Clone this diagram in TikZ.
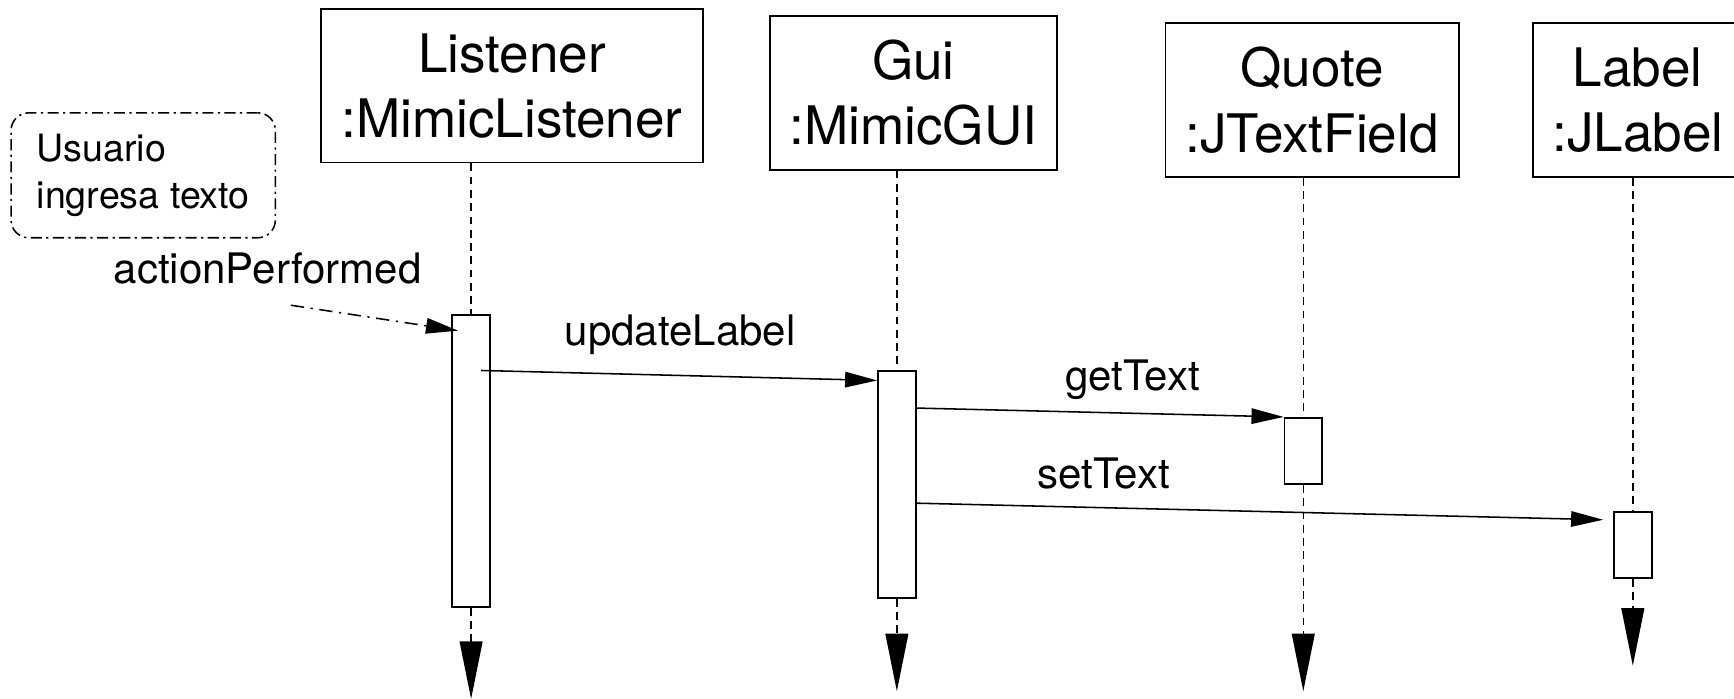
\documentclass[tikz,border=0pt]{standalone}
\usepackage{fontspec}
\setmainfont{TeX Gyre Heros}
\usetikzlibrary{arrows.meta, positioning}

\begin{document}
\begin{tikzpicture}[x=0.5pt, y=-0.5pt,
	object/.style={draw, line width=0.8pt, align=center, inner sep=0pt, minimum height=69.5pt, font=\fontsize{24}{29.5}\selectfont},
	activation/.style={draw, fill=white, line width=0.8pt, inner sep=0pt, minimum width=17pt, anchor=north},
	lifeline/.style={line width=0.7pt, dash pattern=on 3.5pt off 2.5pt},
	lifeend/.style={lifeline, -{Triangle[length=26pt, width=10.3pt]}},
	message/.style={line width=0.7pt, -{Triangle[length=14.5pt, width=7pt]}},
	msglabel/.style={font=\fontsize{19}{23}\selectfont},
	notebox/.style={draw, rounded corners=8pt, line width=0.7pt, dash pattern=on 5pt off 2pt on 1pt off 2pt, align=left, minimum width=119.5pt, minimum height=56.5pt, font=\fontsize{17}{21.5}\selectfont}]
				\useasboundingbox (0,0) rectangle (1568,632);
				\clip (0,0) rectangle (1568,632);

				% Objects
				\node[object, minimum width=173pt] (listener) at (463,77.5) {Listener\\:MimicListener};
				\node[object, minimum width=130pt] (gui) at (826,84) {Gui\\:MimicGUI};
				\node[object, minimum width=132.5pt] (quote) at (1186.5,90.5) {Quote\\:JTextField};
				\node[object, minimum width=95pt] (jlabel) at (1481,90.5) {Label\\:JLabel};

				% Activations
				\node[activation, minimum height=132pt] (act1) at (426,284) {};
				\node[activation, minimum height=102.5pt] (act2) at (811,335) {};
				\node[activation, minimum height=30pt] (act3) at (1178.5,377) {};
				\node[activation, minimum height=30pt] (act4) at (1476.5,462) {};

				% Lifelines
				\coordinate (end1) at (426,632);
				\coordinate (end2) at (811,625);
				\coordinate (end3) at (1178.5,625);
				\coordinate (end4) at (1476.5,602);
				\draw[lifeline] (listener.south -| act1) -- (act1.north);
				\draw[lifeline] (gui.south -| act2) -- (act2.north);
				\draw[lifeline] (quote.south -| act3) -- (act3.north);
				\draw[lifeline] (jlabel.south -| act4) -- (act4.north);
				\draw[lifeend] (act1.south) -- (end1);
				\draw[lifeend] (act2.south) -- (end2);
				\draw[lifeend] (act3.south) -- (end3);
				\draw[lifeend] (act4.south) -- (end4);

				% Note and incoming event
				\node[notebox] (note) at (129.5,158.5) {Usuario\\ingresa texto};
				\node[msglabel] (performed) at (242,243) {actionPerformed};
				\coordinate (user) at (263,276);
				\draw[message, dash pattern=on 6pt off 3pt on 1pt off 3pt] (user) -- ([xshift=3pt,yshift=-7.5pt]act1.north west);

				% Messages
				\draw[message] ([xshift=4.5pt,yshift=-25.5pt]act1.north) -- ([yshift=-4.5pt]act2.north west);
				\node[msglabel] (update) at (615,303) {updateLabel};
				\draw[message] ([yshift=-17pt]act2.north east) -- (act3.north west);
				\node[msglabel] (get) at (1024,343) {getText};
				\draw[message] ([yshift=-60pt]act2.north east) -- ([xshift=-4.5pt,yshift=-4pt]act4.north west);
				\node[msglabel] (set) at (998,428) {setText};
\end{tikzpicture}
\end{document}
